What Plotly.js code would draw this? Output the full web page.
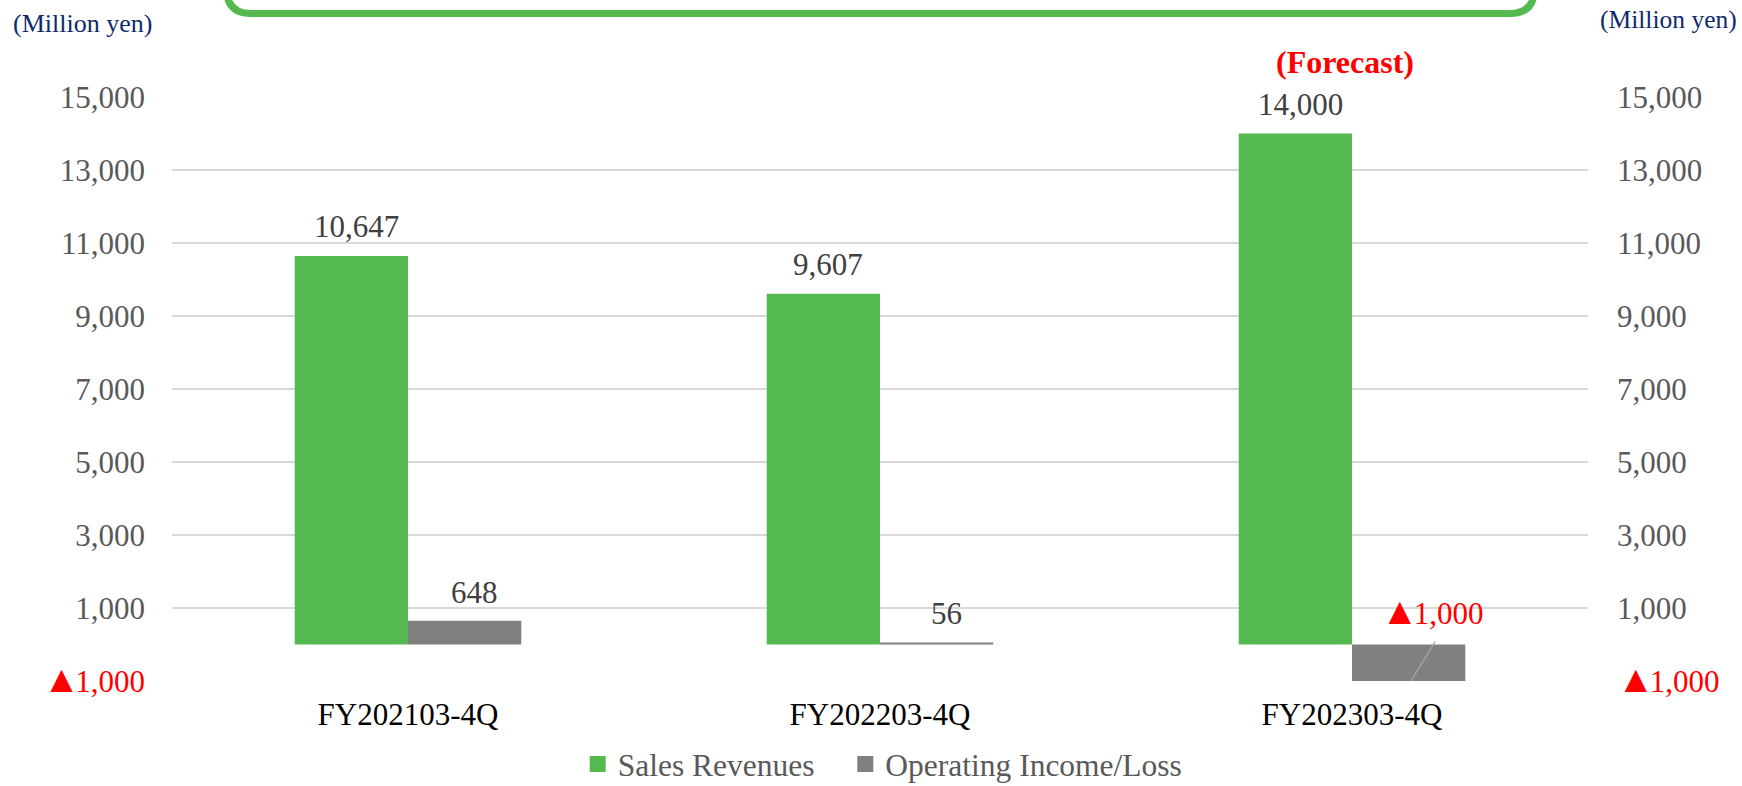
<!DOCTYPE html>
<html>
<head>
<meta charset="utf-8">
<script src="https://cdn.plot.ly/plotly-3.0.1.min.js"></script>
<style>
  html, body { margin: 0; padding: 0; background: #fff; }
  #chart { width: 1742px; height: 786px; }
</style>
</head>
<body>
<div id="chart"></div>
<script>
// ---- data ----
const categories = ['FY202103-4Q', 'FY202203-4Q', 'FY202303-4Q'];
const salesRevenues = [10647, 9607, 14000];
const operatingIncome = [648, 56, -1000];
const seriesNames = ['Sales Revenues', 'Operating Income/Loss'];
const tickValues = [-1000, 1000, 3000, 5000, 7000, 9000, 11000, 13000, 15000];
const unitLabel = '(Million yen)';
const forecastLabel = '(Forecast)';

// ---- helpers ----
const FONT = '"Liberation Serif", "Times New Roman", serif';
const GREEN = '#54B94E';
const GRAY = '#808080';
const RED = '#FF0000';
const TRI = '<span style="font-size:38px;letter-spacing:-5px">▲</span>';

function fmtPlain(v) {
  return Math.abs(v).toLocaleString('en-US');
}
function fmt(v) {
  return v < 0 ? TRI + fmtPlain(v) : fmtPlain(v);
}
function tickText(v) {
  return v < 0 ? '<span style="color:' + RED + '">' + fmt(v) + '</span>' : fmt(v);
}

const ticktext = tickValues.map(tickText);
const yRange = [tickValues[0], tickValues[tickValues.length - 1]];
const colors = [GREEN, GRAY];
const legendIds = ['legend', 'legend2'];

const traces = [
  {
    type: 'bar', name: seriesNames[0], x: categories, y: salesRevenues,
    marker: { color: GREEN }, hoverinfo: 'skip', showlegend: false
  },
  {
    type: 'bar', name: seriesNames[1], x: categories, y: operatingIncome,
    marker: { color: GRAY }, hoverinfo: 'skip', showlegend: false
  },
  {
    type: 'scatter', x: categories, y: categories.map(() => null), yaxis: 'y2',
    showlegend: false, hoverinfo: 'skip', mode: 'markers'
  }
];
// legend entries (large square swatches), one legend box each
seriesNames.forEach((n, i) => {
  traces.push({
    type: 'scatter', mode: 'markers', name: n, x: [null], y: [null],
    marker: { symbol: 'square', size: 17, color: colors[i] },
    hoverinfo: 'skip', showlegend: true, legend: legendIds[i]
  });
});

const annotations = [];
const half = 0.12;
salesRevenues.forEach((v, i) => {
  annotations.push({
    xref: 'x', yref: 'y', x: i - half + 0.01, y: Math.max(v, 0),
    text: fmt(v), showarrow: false, yanchor: 'bottom', yshift: 10,
    font: { family: FONT, size: 31, color: v < 0 ? RED : '#404040' }
  });
});
operatingIncome.forEach((v, i) => {
  annotations.push({
    xref: 'x', yref: 'y', x: i + half + (v < 0 ? 0.05 : 0.02), y: Math.max(v, 0),
    text: fmt(v), showarrow: false, yanchor: 'bottom', yshift: v < 0 ? 11 : 9,
    font: { family: FONT, size: 31, color: v < 0 ? RED : '#404040' }
  });
});
annotations.push({
  xref: 'x', yref: 'paper', x: categories.length - 1 - 0.015, y: 1.06,
  text: '<b>' + forecastLabel + '</b>', showarrow: false, yanchor: 'middle',
  font: { family: FONT, size: 32, color: RED }
});
annotations.push({
  xref: 'paper', yref: 'paper', x: -0.114, y: 1.126, xanchor: 'left', yanchor: 'middle',
  text: unitLabel, showarrow: false, font: { family: FONT, size: 26, color: '#0F2A6B' }
});
annotations.push({
  xref: 'paper', yref: 'paper', x: 1.0072, y: 1.132, xanchor: 'left', yanchor: 'middle',
  text: unitLabel, showarrow: false, font: { family: FONT, size: 25.5, color: '#0F2A6B' }
});

// rounded green frame at the top (decoration)
const x0 = 0.0385, x1 = 0.9622, yb = 1.1428, ytop = 1.30, rx = 0.0177, ry = 0.0428;
const framePath = `M ${x0},${ytop} L ${x0},${yb + ry} Q ${x0},${yb} ${x0 + rx},${yb} ` +
  `L ${x1 - rx},${yb} Q ${x1},${yb} ${x1},${yb + ry} L ${x1},${ytop}`;

const shapes = [
  {
    type: 'path', xref: 'paper', yref: 'paper', path: framePath,
    line: { color: GREEN, width: 7 }, layer: 'above'
  },
  // break mark on the negative forecast bar
  {
    type: 'line', xref: 'x', yref: 'y',
    x0: categories.length - 1 + 0.176, y0: 80,
    x1: categories.length - 1 + 0.125, y1: yRange[0],
    line: { color: '#A6A6A6', width: 1.2 }, layer: 'above'
  }
];

const axisY = {
  range: yRange, tickvals: tickValues, ticktext: ticktext,
  showgrid: true, gridcolor: '#D9D9D9', gridwidth: 1.5,
  zeroline: false, showline: false, ticks: '',
  tickfont: { family: FONT, size: 31, color: '#595959' },
  fixedrange: true
};

const legendBase = {
  orientation: 'h', xanchor: 'left', y: -0.142, yanchor: 'middle',
  font: { family: FONT, size: 31.5, color: '#595959' },
  itemwidth: 30, bgcolor: 'rgba(0,0,0,0)'
};

const layout = {
  width: 1742, height: 786,
  margin: { l: 172, r: 154, t: 97, b: 105, autoexpand: false },
  paper_bgcolor: '#fff', plot_bgcolor: '#fff',
  barmode: 'group', bargap: 0.52, bargroupgap: 0,
  showlegend: true,
  legend: Object.assign({}, legendBase, { x: 0.2865 }),
  legend2: Object.assign({}, legendBase, { x: 0.4755 }),
  xaxis: {
    type: 'category', showgrid: false, zeroline: false, showline: false, ticks: '',
    tickfont: { family: FONT, size: 31, color: '#000' },
    ticklabelstandoff: 12, fixedrange: true
  },
  yaxis: Object.assign({}, axisY, { ticklabelstandoff: 26 }),
  yaxis2: Object.assign({}, axisY, {
    overlaying: 'y', side: 'right', anchor: 'x', showgrid: false, ticklabelstandoff: 28
  }),
  annotations: annotations,
  shapes: shapes
};

Plotly.newPlot('chart', traces, layout, { displayModeBar: false, staticPlot: true });
</script>
</body>
</html>
